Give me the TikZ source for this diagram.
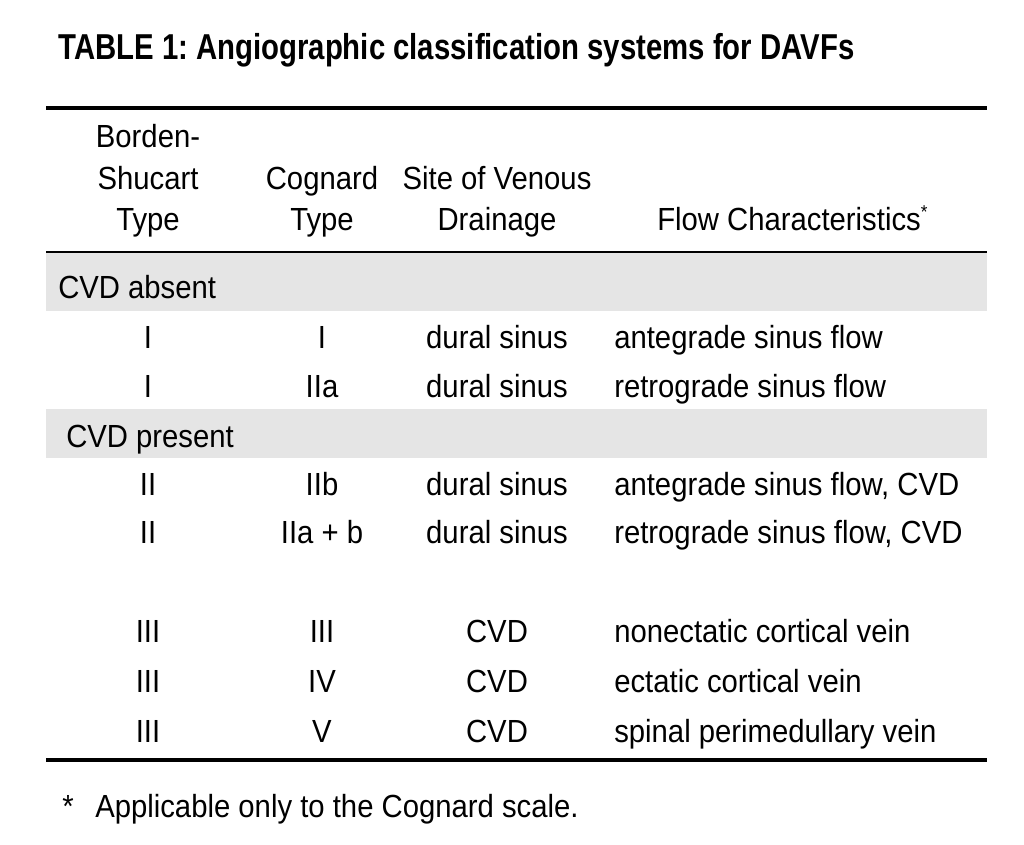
\documentclass[tikz,border=0pt]{standalone}
\usepackage{fontspec}
\setmainfont[FakeStretch=0.915]{Liberation Sans}
\newfontfamily\titlefont[FakeStretch=0.815]{Liberation Sans}
\definecolor{bandgray}{HTML}{E5E5E5}
\frenchspacing
\begin{document}
\begin{tikzpicture}[x=0.75pt,y=-0.75pt,
  cell/.style={anchor=base,inner sep=0pt,font=\fontsize{24}{28}\selectfont},
  flow/.style={cell,anchor=base west},
  band/.style={fill=bandgray}]
  \useasboundingbox (0,0) rectangle (1024,845);
  \fill[white] (0,0) rectangle (1024,845);
  \node[anchor=base west,inner sep=0pt,font=\titlefont\bfseries\fontsize{27}{30}\selectfont] (title) at (58,60) {TABLE 1: Angiographic classification systems for DAVFs};
  \fill[band] (46,253) rectangle (987,311);   %CVD absent
  \fill[band] (46,409) rectangle (987,458);   %CVD present
  \draw[line width=3pt] (46,108) -- (987,108); %top rule
  \draw[line width=1.5pt] (46,252) -- (987,252);
  \draw[line width=3pt] (46,760) -- (987,760); %bottom rule
  % header
  \node[cell] (bs1) at (148,148) {Borden-};
  \node[cell] (bs2) at (148,190) {Shucart};
  \node[cell] (bs3) at (148,230) {Type};
  \node[cell] (cg1) at (322,190) {Cognard};
  \node[cell] (cg2) at (322,230) {Type};
  \node[cell] (sv1) at (497,190) {Site of Venous};
  \node[cell] (sv2) at (497,230) {Drainage};
  \node[flow] (fc) at (657,230) {Flow Characteristics\raisebox{9pt}{\fontsize{14}{14}\selectfont*}};
  % groups
  \node[flow] (absent) at (58,298) {CVD absent};
  \node[flow] (present) at (66,447) {CVD present};
  % rows
  \node[cell] (a1) at (148,348) {I};
  \node[cell] (b1) at (322,348) {I};
  \node[cell] (c1) at (497,348) {dural sinus};
  \node[flow] (d1) at (614,348) {antegrade sinus flow};
  \node[cell] (a2) at (148,397) {I};
  \node[cell] (b2) at (322,397) {IIa};
  \node[cell] (c2) at (497,397) {dural sinus};
  \node[flow] (d2) at (614,397) {retrograde sinus flow};
  \node[cell] (a3) at (148,495) {II};
  \node[cell] (b3) at (322,495) {IIb};
  \node[cell] (c3) at (497,495) {dural sinus};
  \node[flow] (d3) at (614,495) {antegrade sinus flow, CVD};
  \node[cell] (a4) at (148,543) {II};
  \node[cell] (b4) at (322,543) {IIa + b};
  \node[cell] (c4) at (497,543) {dural sinus};
  \node[flow] (d4) at (614,543) {retrograde sinus flow, CVD};
  \node[cell] (a5) at (148,642) {III};
  \node[cell] (b5) at (322,642) {III};
  \node[cell] (c5) at (497,642) {CVD};
  \node[flow] (d5) at (614,642) {nonectatic cortical vein};
  \node[cell] (a6) at (148,692) {III};
  \node[cell] (b6) at (322,692) {IV};
  \node[cell] (c6) at (497,692) {CVD};
  \node[flow] (d6) at (614,692) {ectatic cortical vein};
  \node[cell] (a7) at (148,742) {III};
  \node[cell] (b7) at (322,742) {V};
  \node[cell] (c7) at (497,742) {CVD};
  \node[flow] (d7) at (614,742) {spinal perimedullary vein};
  % footnote
  \node[flow] (star) at (62,817) {*};
  \node[flow] (note) at (95,817) {Applicable only to the Cognard scale.};
\end{tikzpicture}
\end{document}
